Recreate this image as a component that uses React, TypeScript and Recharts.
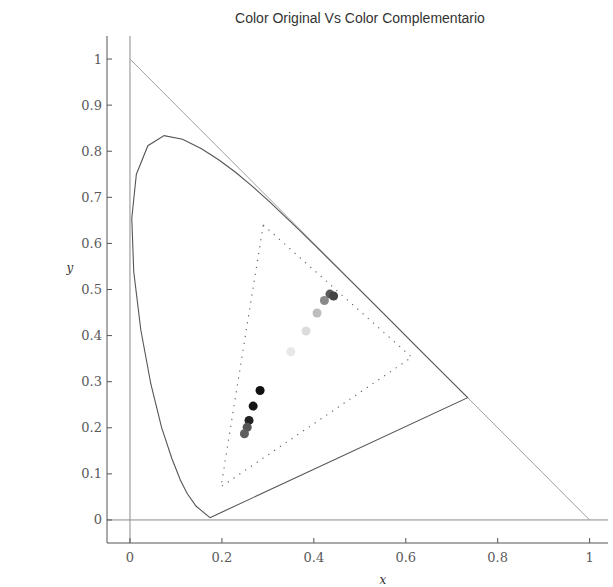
import React from 'react';
import { ScatterChart, Scatter, XAxis, YAxis, ZAxis, ReferenceLine, Cell } from 'recharts';

// CIE 1931 spectral locus (closed by the purple line)
const spectralLocus = [
  { x: 0.1741, y: 0.005 },
  { x: 0.144, y: 0.0297 },
  { x: 0.1241, y: 0.0578 },
  { x: 0.1096, y: 0.0868 },
  { x: 0.0913, y: 0.1327 },
  { x: 0.0687, y: 0.2007 },
  { x: 0.0454, y: 0.295 },
  { x: 0.0235, y: 0.4127 },
  { x: 0.0082, y: 0.5384 },
  { x: 0.0039, y: 0.6548 },
  { x: 0.0139, y: 0.7502 },
  { x: 0.0389, y: 0.812 },
  { x: 0.0743, y: 0.8338 },
  { x: 0.1142, y: 0.8262 },
  { x: 0.1547, y: 0.8059 },
  { x: 0.1929, y: 0.7816 },
  { x: 0.2296, y: 0.7543 },
  { x: 0.2658, y: 0.7243 },
  { x: 0.3016, y: 0.6923 },
  { x: 0.3731, y: 0.6245 },
  { x: 0.4441, y: 0.5547 },
  { x: 0.5125, y: 0.4866 },
  { x: 0.5752, y: 0.4242 },
  { x: 0.627, y: 0.3725 },
  { x: 0.6915, y: 0.3083 },
  { x: 0.7347, y: 0.2653 },
  { x: 0.1741, y: 0.005 },
];

const gamutTriangle = [
  { x: 0.29, y: 0.64 },
  { x: 0.613, y: 0.353 },
  { x: 0.198, y: 0.072 },
  { x: 0.29, y: 0.64 },
];

const unitLine = [
  { x: 0, y: 1 },
  { x: 1, y: 0 },
];

const colorPoints = [
  { x: 0.435, y: 0.49 },
  { x: 0.443, y: 0.486 },
  { x: 0.423, y: 0.476 },
  { x: 0.407, y: 0.449 },
  { x: 0.383, y: 0.41 },
  { x: 0.35, y: 0.365 },
  { x: 0.283, y: 0.281 },
  { x: 0.268, y: 0.247 },
  { x: 0.259, y: 0.216 },
  { x: 0.255, y: 0.201 },
  { x: 0.249, y: 0.187 },
];

const pointShades = [
  '#5a5a5a', '#444444', '#8a8a8a', '#bdbdbd', '#dcdcdc', '#e8e8e8',
  '#111111', '#151515', '#222222', '#555555', '#5e5e5e',
];

const xTicks = [0, 0.2, 0.4, 0.6, 0.8, 1];
const yTicks = [0, 0.1, 0.2, 0.3, 0.4, 0.5, 0.6, 0.7, 0.8, 0.9, 1];

const TICK_COLOR = '#555';
const labelFont = { fontFamily: 'DejaVu Serif', fontSize: 13, fill: '#5a5a5a' };

const BottomTick = (p: any) => (
  <g>
    <line x1={p.x} y1={p.y} x2={p.x} y2={p.y - 5} stroke={TICK_COLOR} />
    <text x={p.x} y={p.y + 19} textAnchor="middle" {...labelFont}>{String(p.payload.value)}</text>
  </g>
);
const TopTick = (p: any) => (
  <line x1={p.x} y1={p.y} x2={p.x} y2={p.y + 5} stroke={TICK_COLOR} />
);
const LeftTick = (p: any) => (
  <g>
    <line x1={p.x} y1={p.y} x2={p.x + 5} y2={p.y} stroke={TICK_COLOR} />
    <text x={p.x - 5} y={p.y + 4.5} textAnchor="end" {...labelFont}>{String(p.payload.value)}</text>
  </g>
);
const RightTick = (p: any) => (
  <line x1={p.x} y1={p.y} x2={p.x - 5} y2={p.y} stroke={TICK_COLOR} />
);

const NoShape = () => <g />;

export default function App() {
  const xDomain: [number, number] = [-0.05, 1.04];
  const yDomain: [number, number] = [-0.05, 1.05];
  return (
    <div style={{ position: 'absolute', left: 0, top: 0, width: 613, height: 587, background: '#fff' }}>
      <ScatterChart width={613} height={587} margin={{ top: 36, right: 5, bottom: 0, left: 0 }}>
        <XAxis
          type="number" dataKey="x" domain={xDomain} ticks={xTicks} allowDataOverflow interval={0}
          height={44} tickSize={0} tickMargin={0} tickLine={false}
          axisLine={{ stroke: '#555' }} tick={(p: any) => <BottomTick {...p} />}
        />
        <XAxis
          xAxisId="top" orientation="top" type="number" dataKey="x" domain={xDomain} ticks={xTicks}
          allowDataOverflow interval={0} height={0} tickSize={0} tickMargin={0} tickLine={false}
          axisLine={{ stroke: '#555' }} tick={(p: any) => <TopTick {...p} />}
        />
        <YAxis
          type="number" dataKey="y" domain={yDomain} ticks={yTicks} allowDataOverflow interval={0}
          width={107} tickSize={0} tickMargin={0} tickLine={false}
          axisLine={{ stroke: '#555' }} tick={(p: any) => <LeftTick {...p} />}
        />
        <YAxis
          yAxisId="right" orientation="right" type="number" dataKey="y" domain={yDomain} ticks={yTicks}
          allowDataOverflow interval={0} width={0} tickSize={0} tickMargin={0} tickLine={false}
          axisLine={{ stroke: '#555' }} tick={(p: any) => <RightTick {...p} />}
        />
        <ZAxis range={[42, 42]} />
        <ReferenceLine x={0} stroke="#8a8a8a" strokeWidth={1} />
        <ReferenceLine y={0} stroke="#8a8a8a" strokeWidth={1} />
        <Scatter
          data={unitLine} isAnimationActive={false} shape={NoShape} fill="none"
          line={{ stroke: '#a0a0a0', strokeWidth: 1 }} lineJointType="linear"
        />
        <Scatter
          data={spectralLocus} isAnimationActive={false} shape={NoShape} fill="none"
          line={{ stroke: '#555', strokeWidth: 1.1 }} lineJointType="linear"
        />
        <Scatter
          data={gamutTriangle} isAnimationActive={false} shape={NoShape} fill="none"
          line={{ stroke: '#666', strokeWidth: 1.2, strokeDasharray: '1.2 5.8' }} lineJointType="linear"
        />
        <Scatter data={colorPoints} isAnimationActive={false} shape="circle">
          {colorPoints.map((_, i) => (
            <Cell key={i} fill={pointShades[i]} />
          ))}
        </Scatter>
      </ScatterChart>
      <div style={{ position: 'absolute', left: 360, top: 18, transform: 'translate(-50%, -50%)', whiteSpace: 'nowrap', fontFamily: 'Liberation Sans', fontSize: 14, color: '#333' }}>
        Color Original Vs Color Complementario
      </div>
      <div style={{ position: 'absolute', left: 70, top: 268, transform: 'translate(-50%, -50%)', fontFamily: 'DejaVu Serif', fontStyle: 'italic', fontSize: 12, color: '#333' }}>
        y
      </div>
      <div style={{ position: 'absolute', left: 383, top: 580, transform: 'translate(-50%, -50%)', fontFamily: 'DejaVu Serif', fontStyle: 'italic', fontSize: 12, color: '#333' }}>
        x
      </div>
    </div>
  );
}
